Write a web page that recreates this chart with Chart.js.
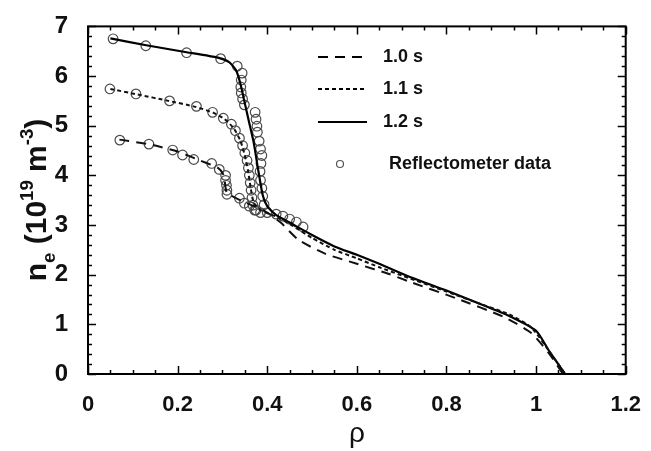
<!DOCTYPE html>
<html><head><meta charset="utf-8">
<script src="https://cdn.jsdelivr.net/npm/chart.js@4/dist/chart.umd.min.js"></script>
<style>html,body{margin:0;padding:0;background:#fff}canvas{display:block}</style>
</head><body>
<canvas id="c" width="651" height="451"></canvas>
<script>
// 1.0 s profile (dashed)
const rho10 = [0.07,0.14,0.2,0.25,0.29,0.303,0.31,0.34,0.37,0.40,0.43,0.47,0.53,0.6,0.67,0.72,0.82,0.93,0.99,1.03,1.06];
const ne10  = [4.72,4.62,4.48,4.3,4.15,4.0,3.65,3.5,3.38,3.25,3.05,2.7,2.42,2.22,2.02,1.85,1.53,1.14,0.82,0.4,0];
// 1.1 s profile (dotted)
const rho11 = [0.05,0.11,0.18,0.24,0.28,0.305,0.325,0.34,0.35,0.357,0.363,0.37,0.385,0.42,0.45,0.50,0.55,0.60,0.65,0.72,0.80,0.87,0.94,0.99,1.03,1.065];
const ne11  = [5.74,5.63,5.5,5.38,5.26,5.13,4.95,4.7,4.4,4.1,3.75,3.45,3.3,3.17,3.02,2.74,2.5,2.33,2.15,1.92,1.66,1.43,1.2,0.93,0.45,0];
// 1.2 s profile (solid)
const rho12 = [0.05,0.13,0.22,0.29,0.315,0.33,0.34,0.35,0.36,0.37,0.38,0.39,0.40,0.42,0.45,0.50,0.55,0.60,0.65,0.72,0.80,0.87,0.94,1.00,1.03,1.065];
const ne12  = [6.76,6.62,6.48,6.37,6.28,6.12,5.85,5.45,5.05,4.65,4.1,3.6,3.38,3.2,3.05,2.8,2.57,2.4,2.22,1.95,1.68,1.43,1.17,0.87,0.45,0];
// Reflectometer data
const reflRho = [0.056,0.129,0.22,0.296,0.333,0.344,0.342,0.341,0.342,0.345,0.349,0.373,0.375,0.377,0.378,0.382,0.385,0.388,0.386,0.384,0.385,0.388,0.39,0.393,
  0.049,0.107,0.182,0.242,0.278,0.302,0.32,0.329,0.338,0.345,0.35,0.355,0.358,0.36,0.362,0.364,0.366,0.368,0.372,
  0.071,0.136,0.189,0.211,0.236,0.276,0.293,0.307,0.307,0.309,0.31,0.31,0.338,0.349,0.36,
  0.375,0.385,0.40,0.42,0.435,0.45,0.465,0.48];
const reflNe = [6.75,6.61,6.47,6.35,6.2,6.06,5.92,5.78,5.66,5.54,5.42,5.27,5.13,4.99,4.87,4.69,4.53,4.4,4.24,4.08,3.9,3.74,3.58,3.41,
  5.74,5.64,5.5,5.39,5.27,5.15,5.03,4.9,4.75,4.6,4.45,4.3,4.15,4.0,3.85,3.7,3.55,3.4,3.3,
  4.71,4.63,4.51,4.41,4.32,4.24,4.12,4.0,3.9,3.8,3.7,3.62,3.54,3.44,3.38,
  3.3,3.25,3.25,3.22,3.18,3.12,3.06,2.96];
const xTicks = [0,0.2,0.4,0.6,0.8,1,1.2];
const yTicks = [0,1,2,3,4,5,6,7];
const legendLabels = ['1.0 s','1.1 s','1.2 s','Reflectometer data'];

const pts = (xs, ys) => xs.map((x,i)=>({x, y: ys[i]}));
const FONT = '"Liberation Sans", Arial, sans-serif';
const NARROW = '"Liberation Sans Narrow", "Liberation Sans", Arial, sans-serif';

const decor = {
  id: 'decor',
  afterDraw(chart) {
    const ctx = chart.ctx, xs = chart.scales.x, ys = chart.scales.y;
    const L = chart.chartArea.left, R = chart.chartArea.right, T = chart.chartArea.top, B = chart.chartArea.bottom;
    ctx.save();
    ctx.strokeStyle = '#000';
    ctx.lineWidth = 2;
    ctx.strokeRect(L, T, R - L, B - T);
    ctx.lineWidth = 1.5;
    ctx.beginPath();
    for (let i = 0; i <= 24; i++) {
      const v = i * 0.05, px = Math.round(xs.getPixelForValue(v)) + 0.5;
      const len = (i % 4 === 0) ? 8 : 4;
      ctx.moveTo(px, B); ctx.lineTo(px, B - len);
      ctx.moveTo(px, T); ctx.lineTo(px, T + len);
    }
    for (let i = 0; i <= 35; i++) {
      const v = i * 0.2, py = Math.round(ys.getPixelForValue(v)) + 0.5;
      const len = (i % 5 === 0) ? 8 : 4;
      ctx.moveTo(L, py); ctx.lineTo(L + len, py);
      ctx.moveTo(R, py); ctx.lineTo(R - len, py);
    }
    ctx.stroke();

    // legend
    const lx0 = 318, lx1 = 367, tx = 383;
    const rows = [57, 89, 122];
    const dashes = [[10,7],[4,3],[]];
    ctx.lineWidth = 2;
    rows.forEach((y, i) => {
      ctx.setLineDash(dashes[i]);
      ctx.beginPath(); ctx.moveTo(lx0, y); ctx.lineTo(lx1, y); ctx.stroke();
    });
    ctx.setLineDash([]);
    ctx.lineWidth = 1.2; ctx.strokeStyle = '#555';
    ctx.beginPath(); ctx.arc(340, 164, 3.5, 0, Math.PI*2); ctx.stroke();
    ctx.fillStyle = '#111';
    ctx.font = 'bold 18px ' + FONT;
    ctx.textBaseline = 'middle'; ctx.textAlign = 'left';
    rows.forEach((y, i) => ctx.fillText(legendLabels[i], tx, y));
    ctx.fillText(legendLabels[3], 389, 164);

    // x title
    ctx.font = '28px ' + FONT;
    ctx.textAlign = 'center';
    ctx.fillText('ρ', (L + R) / 2, 434);

    // y title with sub/superscripts
    const parts = [
      {t:'n', s:1, dy:0}, {t:'e', s:0.62, dy:0.3}, {t:' (10', s:1, dy:0},
      {t:'19', s:0.62, dy:-0.42}, {t:' m', s:1, dy:0}, {t:'-3', s:0.62, dy:-0.42}, {t:')', s:1, dy:0}
    ];
    const base = 30;
    let total = 0;
    parts.forEach(p => { ctx.font = 'bold ' + (base*p.s) + 'px ' + NARROW; p.w = ctx.measureText(p.t).width; total += p.w; });
    ctx.translate(37, 200);
    ctx.rotate(-Math.PI/2);
    ctx.textAlign = 'left'; ctx.textBaseline = 'alphabetic';
    let cx = -total/2;
    parts.forEach(p => {
      ctx.font = 'bold ' + (base*p.s) + 'px ' + NARROW;
      ctx.fillText(p.t, cx, 9 + p.dy*base);
      cx += p.w;
    });
    ctx.restore();
  }
};

new Chart(document.getElementById('c'), {
  type: 'scatter',
  data: {
    datasets: [
      {label: legendLabels[3], data: pts(reflRho, reflNe), showLine: false, pointRadius: 4.8, pointBorderWidth: 1.2,
        pointBorderColor: '#4a4a4a', pointBackgroundColor: 'rgba(255,255,255,0)', order: 2},
      {label: legendLabels[0], data: pts(rho10, ne10), showLine: true, pointRadius: 0, borderColor: '#111', borderWidth: 2,
        borderDash: [10,7], tension: 0.2, order: 1},
      {label: legendLabels[1], data: pts(rho11, ne11), showLine: true, pointRadius: 0, borderColor: '#111', borderWidth: 2,
        borderDash: [4,3], tension: 0.2, order: 1},
      {label: legendLabels[2], data: pts(rho12, ne12), showLine: true, pointRadius: 0, borderColor: '#000', borderWidth: 2.2,
        tension: 0.2, order: 1}
    ]
  },
  options: {
    responsive: false, animation: false, devicePixelRatio: 1,
    layout: {padding: {left: 0, top: 21, right: 23, bottom: 0}},
    plugins: {legend: {display: false}, tooltip: {enabled: false}},
    scales: {
      x: {type: 'linear', min: 0, max: 1.2,
        afterBuildTicks: s => { s.ticks = xTicks.map(v => ({value: v})); },
        afterFit: s => { s.height = 77; },
        grid: {display: false}, border: {display: false},
        ticks: {color: '#111', font: {family: FONT, size: 22, weight: 'bold'}, padding: 10, maxRotation: 0,
          callback: v => (v === 0 || v === 1) ? String(v) : v.toFixed(1)}},
      y: {type: 'linear', min: 0, max: 7,
        afterBuildTicks: s => { s.ticks = yTicks.map(v => ({value: v})); },
        afterFit: s => { s.width = 88; },
        grid: {display: false}, border: {display: false},
        ticks: {color: '#111', font: {family: NARROW, size: 24, weight: 'bold'}, padding: 12}}
    }
  },
  plugins: [decor]
});
</script>
</body></html>
